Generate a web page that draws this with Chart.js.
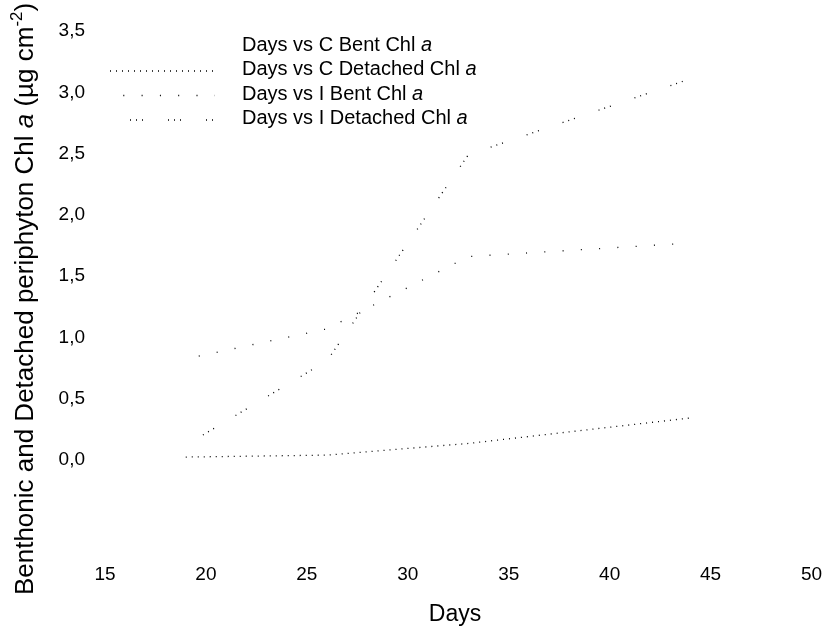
<!DOCTYPE html>
<html><head><meta charset="utf-8">
<script src="https://cdn.jsdelivr.net/npm/chart.js@4.4.0/dist/chart.umd.min.js"></script>
<style>html,body{margin:0;padding:0;background:#fff}canvas{display:block}</style>
</head><body>
<canvas id="c" width="827" height="626"></canvas>
<script>
// ---- data ----
const seriesNames = ['Days vs C Bent Chl ', 'Days vs C Detached Chl ', 'Days vs I Bent Chl ', 'Days vs I Detached Chl '];
const days = [19, 26, 33, 44];
const cBent = [];
const cDetached = [0.024, 0.04, 0.135, 0.343];
const iBent = [0.825, 1.07, 1.66, 1.77];
const iDetached = [0.12, 0.81, 2.49, 3.11];
const xTickValues = [15, 20, 25, 30, 35, 40, 45, 50];
const yTickValues = [0, 0.5, 1, 1.5, 2, 2.5, 3, 3.5];
const yTickLabels = ['0,0', '0,5', '1,0', '1,5', '2,0', '2,5', '3,0', '3,5'];
const xTitle = 'Days';

const FAMILY = '"Liberation Sans", Arial, Helvetica, sans-serif';
const pts = arr => arr.map((v, i) => ({x: days[i], y: v}));

const styles = [
  {color: 'rgba(0,0,0,0)', dash: [], offset: 0},
  {color: '#000', dash: [1, 5], offset: 0},
  {color: '#000', dash: [1, 17.3], offset: 5},
  {color: '#000', dash: [1, 5, 1, 5, 1, 25], offset: 18}
];
const seriesData = [cBent, cDetached, iBent, iDetached];

function segFont(s, size) {
  const sz = s.sup ? size * 0.65 : size;
  return (s.it ? 'italic ' : '') + sz + 'px ' + FAMILY;
}
function richWidth(ctx, segs, size) {
  let w = 0;
  for (const s of segs) { ctx.font = segFont(s, size); w += ctx.measureText(s.t).width; }
  return w;
}
function drawRich(ctx, segs, x, y, size) {
  let cx = x;
  for (const s of segs) {
    ctx.font = segFont(s, size);
    ctx.fillText(s.t, cx, s.sup ? y - size * 0.42 : y);
    cx += ctx.measureText(s.t).width;
  }
}

const textPlugin = {
  id: 'textPlugin',
  afterDraw(chart) {
    const ctx = chart.ctx;
    ctx.save();
    ctx.fillStyle = '#000';
    ctx.textBaseline = 'alphabetic';
    // y title
    const ySegs = [
      {t: 'Benthonic and Detached periphyton Chl '}, {t: 'a', it: true}, {t: ' (\u00b5g cm'}, {t: '-2', sup: true}, {t: ')'}
    ];
    const ySize = 26;
    const yw = richWidth(ctx, ySegs, ySize);
    ctx.save();
    ctx.translate(33, 299);
    ctx.rotate(-Math.PI / 2);
    drawRich(ctx, ySegs, -yw / 2, 0, ySize);
    ctx.restore();
    // x title
    ctx.font = '23px ' + FAMILY;
    ctx.textAlign = 'center';
    ctx.fillText(xTitle, 455, 621);
    ctx.textAlign = 'left';
    // legend
    const rows = [45, 69.5, 94, 118.5];
    const lSize = 20;
    ctx.textBaseline = 'middle';
    chart.data.datasets.forEach((ds, i) => {
      const y = rows[i];
      drawRich(ctx, [{t: seriesNames[i]}, {t: 'a', it: true}], 242, y, lSize);
      ctx.save();
      ctx.strokeStyle = ds.borderColor;
      ctx.lineWidth = ds.borderWidth;
      ctx.setLineDash(ds.borderDash);
      ctx.lineDashOffset = ds.borderDashOffset || 0;
      ctx.beginPath();
      ctx.moveTo(110, y + 1.5);
      ctx.lineTo(215, y + 1.5);
      ctx.stroke();
      ctx.restore();
    });
    ctx.restore();
  }
};

const chart = new Chart(document.getElementById('c'), {
  type: 'line',
  data: {
    datasets: seriesData.map((arr, i) => ({
      label: seriesNames[i] + 'a',
      data: pts(arr),
      borderColor: styles[i].color,
      borderWidth: 1.3,
      borderDash: styles[i].dash,
      borderDashOffset: styles[i].offset,
      pointRadius: 0,
      fill: false,
      tension: 0
    }))
  },
  options: {
    responsive: false,
    animation: false,
    layout: {padding: {top: 7, right: 12, left: 0, bottom: 0}},
    plugins: {legend: {display: false}, tooltip: {enabled: false}},
    scales: {
      x: {
        type: 'linear', min: 15, max: 50,
        grid: {display: false, drawTicks: false},
        border: {display: false},
        afterBuildTicks: s => { s.ticks = xTickValues.map(v => ({value: v})); },
        afterFit: s => { s.height = 67.9; },
        ticks: {padding: 5, color: '#000', font: {size: 19, family: FAMILY}, callback: v => String(v), maxRotation: 0, autoSkip: false}
      },
      y: {
        type: 'linear', min: -0.8, max: 3.6,
        grid: {display: false, drawTicks: false},
        border: {display: false},
        afterBuildTicks: s => { s.ticks = yTickValues.map(v => ({value: v})); },
        afterFit: s => { s.width = 105; },
        ticks: {padding: 20, color: '#000', font: {size: 19, family: FAMILY}, autoSkip: false,
          callback: v => { const k = yTickValues.indexOf(v); return k >= 0 ? yTickLabels[k] : ''; }}
      }
    }
  },
  plugins: [textPlugin]
});

// calibrate scale ranges so tick positions match the reference layout
function calibrate() {
  const a = chart.chartArea;
  const ky = (460 - 31) / 3.5;
  chart.options.scales.y.min = 0 - (a.bottom - 460) / ky;
  chart.options.scales.y.max = 3.5 + (31 - a.top) / ky;
  const kx = (813 - 105) / 35;
  chart.options.scales.x.min = 15 - (105 - a.left) / kx;
  chart.options.scales.x.max = 50 + (a.right - 813) / kx;
  chart.update();
}
calibrate();
calibrate();
</script>
</body></html>
